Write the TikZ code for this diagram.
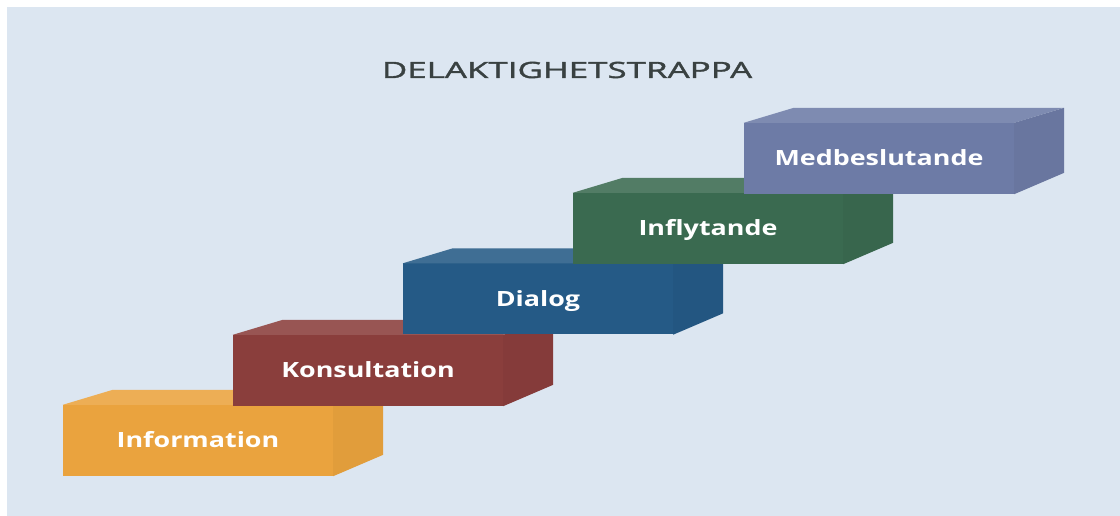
\documentclass[tikz,border=0pt]{standalone}
\usepackage{fontspec}
\newfontfamily\labelfont[FakeStretch=1.28]{Open Sans}
\newfontfamily\titlefont[FakeStretch=1.56, FakeBold=1.6]{Open Sans}
\definecolor{bgblue}{HTML}{DCE6F1}
\definecolor{infocol}{HTML}{EAA33E}
\definecolor{konscol}{HTML}{8A3E3C}
\definecolor{dialcol}{HTML}{255A86}
\definecolor{inflcol}{HTML}{3A6A50}
\definecolor{medbcol}{HTML}{6D7BA6}
\definecolor{titlecol}{HTML}{394141}
\begin{document}
\begin{tikzpicture}[x=1pt, y=1pt,
  stepbox/.style={rectangle, minimum width=270pt, minimum height=71pt, inner sep=0pt,
    text height=15pt, text depth=0pt, text=white,
    font=\labelfont\bfseries\fontsize{21}{21}\selectfont}]
\fill[white] (0,0) rectangle (1120,516);
\fill[bgblue] (7,-10) rectangle (1130,509);
\node[text=titlecol, inner sep=0pt, anchor=base, font=\titlefont\fontsize{22.4}{22.4}\selectfont] (title) at (567,438){DELAKTIGHETSTRAPPA};
% Information
\node[stepbox, fill=infocol] (info) at (198,75.5){Information};
\fill[infocol!88!white] (info.north west) -- ++(50,15) -- ++(270,0) -- (info.north east) -- cycle;
\fill[infocol!96!black] (info.north east) -- ++(50,15) -- ++(0,-65) -- (info.south east) -- cycle;
% Konsultation
\node[stepbox, fill=konscol] (kons) at (368,145.5){Konsultation};
\fill[konscol!88!white] (kons.north west) -- ++(50,15) -- ++(270,0) -- (kons.north east) -- cycle;
\fill[konscol!96!black] (kons.north east) -- ++(50,15) -- ++(0,-65) -- (kons.south east) -- cycle;
% Dialog
\node[stepbox, fill=dialcol] (dial) at (538,217){Dialog};
\fill[dialcol!88!white] (dial.north west) -- ++(50,15) -- ++(270,0) -- (dial.north east) -- cycle;
\fill[dialcol!96!black] (dial.north east) -- ++(50,15) -- ++(0,-65) -- (dial.south east) -- cycle;
% Inflytande
\node[stepbox, fill=inflcol] (infl) at (708,287.5){Inflytande};
\fill[inflcol!88!white] (infl.north west) -- ++(50,15) -- ++(270,0) -- (infl.north east) -- cycle;
\fill[inflcol!96!black] (infl.north east) -- ++(50,15) -- ++(0,-65) -- (infl.south east) -- cycle;
% Medbeslutande
\node[stepbox, fill=medbcol] (medb) at (879,357.5){Medbeslutande};
\fill[medbcol!88!white] (medb.north west) -- ++(50,15) -- ++(270,0) -- (medb.north east) -- cycle;
\fill[medbcol!96!black] (medb.north east) -- ++(50,15) -- ++(0,-65) -- (medb.south east) -- cycle;
\pgfresetboundingbox
\useasboundingbox (0,0) rectangle (1120,516);
\end{tikzpicture}
\end{document}
